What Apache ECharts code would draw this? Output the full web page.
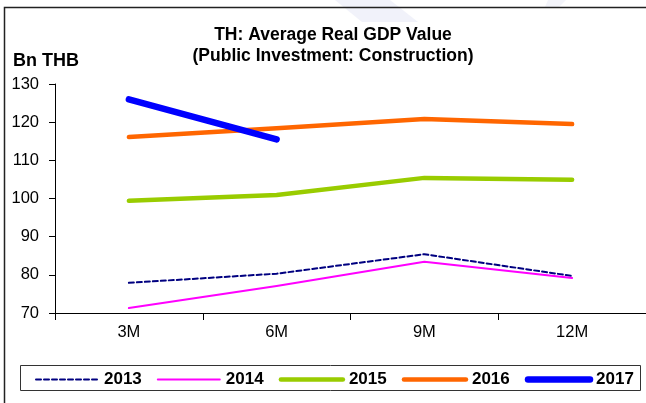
<!DOCTYPE html>
<html>
<head>
<meta charset="utf-8">
<script src="https://cdn.jsdelivr.net/npm/echarts@6/dist/echarts.min.js"></script>
<style>
  html, body { margin: 0; padding: 0; background: #fff; }
  #chart { width: 646px; height: 403px; }
</style>
</head>
<body>
<div id="chart"></div>
<script>
// Average real GDP value of public construction investment, Bn THB (cumulative period averages)
const periods = ['3M', '6M', '9M', '12M'];
const years = ['2013', '2014', '2015', '2016', '2017'];
const v2013 = [77.9, 80.3, 85.4, 79.7];
const v2014 = [71.3, 77.1, 83.4, 79.2];
const v2015 = [99.4, 100.9, 105.4, 104.9];
const v2016 = [116.1, 118.4, 120.8, 119.5];
const v2017 = [126.0, 115.5, null, null];
const yTicks = { min: 70, max: 130, step: 10 };

const FONT = 'Arial, "Liberation Sans", Helvetica, sans-serif';

const styles = {
  '2013': { color: '#000080', width: 2, type: [5, 3] },
  '2014': { color: '#ff00ff', width: 2, type: 'solid' },
  '2015': { color: '#99cc00', width: 4.5, type: 'solid' },
  '2016': { color: '#ff6600', width: 4.5, type: 'solid' },
  '2017': { color: '#0000ff', width: 6.5, type: 'solid' }
};
const values = { '2013': v2013, '2014': v2014, '2015': v2015, '2016': v2016, '2017': v2017 };

const chart = echarts.init(document.getElementById('chart'), null, { renderer: 'canvas' });

chart.setOption({
  backgroundColor: '#fff',
  animation: false,
  grid: { left: 55, top: 84, width: 593, height: 229, containLabel: false },
  title: {
    text: 'TH: Average Real GDP Value\n(Public Investment: Construction)',
    left: 328,
    top: 20,
    textAlign: 'center',
    textStyle: { color: '#000', fontFamily: FONT, fontSize: 17.5, fontWeight: 'bold', lineHeight: 21 }
  },
  xAxis: {
    type: 'category',
    data: periods,
    boundaryGap: true,
    axisLine: { lineStyle: { color: '#000', width: 1 } },
    axisTick: { show: true, length: 7, lineStyle: { color: '#000' } },
    axisLabel: { color: '#000', fontFamily: FONT, fontSize: 16.5, margin: 11 },
    splitLine: { show: false }
  },
  yAxis: {
    type: 'value',
    min: yTicks.min,
    max: yTicks.max,
    interval: yTicks.step,
    axisLine: { show: true, lineStyle: { color: '#000', width: 1 } },
    axisTick: { show: true, length: 6, lineStyle: { color: '#000' } },
    axisLabel: { color: '#000', fontFamily: FONT, fontSize: 16.5, margin: 16 },
    splitLine: { show: false }
  },
  legend: {
    left: 35,
    top: 371,
    width: 640,
    itemWidth: 62,
    itemHeight: 14,
    itemGap: 15,
    padding: 0,
    itemStyle: { opacity: 0 },
    textStyle: { color: '#000', fontFamily: FONT, fontSize: 17, fontWeight: 'bold', padding: [0, 0, 0, 1] },
    data: years.map(y => ({
      name: y,
      lineStyle: { color: styles[y].color, width: styles[y].width, type: styles[y].type, cap: 'round' }
    }))
  },
  graphic: [
    // faint decorative shapes at the top edge
    { type: 'polygon', silent: true, z: -10,
      shape: { points: [[335, 0], [390, 0], [418, 22], [362, 22]] },
      style: { fill: '#f1f2fa' } },
    { type: 'polygon', silent: true, z: -10,
      shape: { points: [[548, 0], [566, 0], [559, 7], [545, 7]] },
      style: { fill: '#f3f4fa' } },
    // outer frame
    { type: 'polyline', silent: true,
      shape: { points: [[4.5, 403], [4.5, 7.5], [646, 7.5]] },
      style: { stroke: '#222', lineWidth: 1.5, fill: null } },
    // legend box
    { type: 'rect', silent: true,
      shape: { x: 20.5, y: 365.5, width: 620, height: 25 },
      style: { stroke: '#333', lineWidth: 1, fill: null } },
    { type: 'text', silent: true, left: 13, top: 52,
      style: { text: 'Bn THB', font: 'bold 18px ' + FONT, fill: '#000' } }
  ],
  series: years.map(y => ({
    name: y,
    type: 'line',
    data: values[y],
    symbol: 'none',
    connectNulls: false,
    color: styles[y].color,
    lineStyle: { color: styles[y].color, width: styles[y].width, type: styles[y].type, cap: 'round', join: 'round' }
  }))
});
</script>
</body>
</html>
